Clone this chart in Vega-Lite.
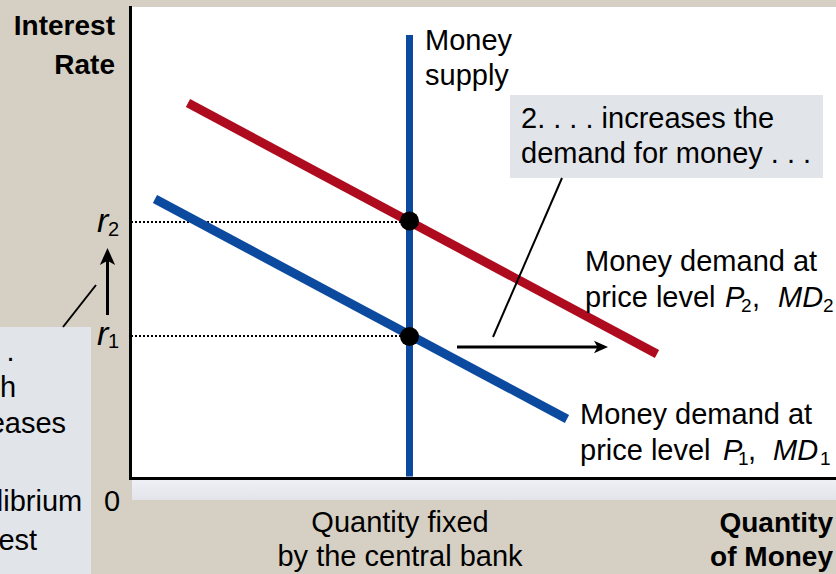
{
  "$schema": "https://vega.github.io/schema/vega-lite/v6.json",
  "width": 706,
  "height": 471,
  "autosize": {"type": "none"},
  "padding": {"left": 130, "top": 7, "right": 0, "bottom": 96},
  "background": "#D6D0C4",
  "config": {
    "view": {"fill": "white", "stroke": null},
    "font": "Liberation Sans",
    "text": {"font": "Liberation Sans", "color": "#000000", "baseline": "alphabetic"}
  },
  "datasets": {
    "strip": [{"x": 0.2, "x2": 70.6, "y": -0.2, "y2": -2.2}],
    "boxes": [
      {"name": "note2", "x": 38.0, "x2": 69.3, "y": 38.3, "y2": 30.0},
      {"name": "note3", "x": -20, "x2": -3.9, "y": 15.1, "y2": -12}
    ],
    "dotted": [
      {"r": "r2", "x": 0.1, "y": 25.6}, {"r": "r2", "x": 27.95, "y": 25.6},
      {"r": "r1", "x": 0.1, "y": 14.2}, {"r": "r1", "x": 27.95, "y": 14.2}
    ],
    "demand": [
      {"curve": "MD1", "x": 2.5, "y": 27.9}, {"curve": "MD1", "x": 43.7, "y": 5.9},
      {"curve": "MD2", "x": 5.8, "y": 37.5}, {"curve": "MD2", "x": 52.7, "y": 12.4}
    ],
    "supply": [{"x": 27.95, "y": 0.15}, {"x": 27.95, "y": 44.3}],
    "equilibria": [{"r": "r2", "x": 27.95, "y": 25.7}, {"r": "r1", "x": 27.95, "y": 14.15}],
    "shafts": [
      {"id": "up", "x": -2.25, "y": 16.3}, {"id": "up", "x": -2.25, "y": 22.0},
      {"id": "right", "x": 32.7, "y": 13.1}, {"id": "right", "x": 46.9, "y": 13.1}
    ],
    "leaders": [
      {"id": "note3", "x": -6.7, "y": 15.1}, {"id": "note3", "x": -3.4, "y": 19.3},
      {"id": "note2", "x": 36.3, "y": 14.1}, {"id": "note2", "x": 43.2, "y": 30.0}
    ],
    "headUp": [{"x": -2.25, "y": 22.15}],
    "headRight": [{"x": 47.1, "y": 13.1}],
    "boldRight": [
      {"text": "Interest", "x": -1.5, "y": 44.3},
      {"text": "Rate", "x": -1.5, "y": 40.4},
      {"text": "Quantity", "x": 70.3, "y": -5.4},
      {"text": "of Money", "x": 70.3, "y": -8.8}
    ],
    "plainLeft": [
      {"text": "Money", "x": 29.5, "y": 42.8},
      {"text": "supply", "x": 29.5, "y": 39.3},
      {"text": "2. . . . increases the", "x": 39.1, "y": 35.0},
      {"text": "demand for money . . .", "x": 39.1, "y": 31.5},
      {"text": "Money demand at", "x": 45.5, "y": 20.7},
      {"text": "price level", "x": 45.5, "y": 17.1},
      {"text": ",", "x": 62.2, "y": 17.1},
      {"text": "Money demand at", "x": 45.0, "y": 5.4},
      {"text": "price level", "x": 45.0, "y": 1.8},
      {"text": ",", "x": 61.8, "y": 1.8},
      {"text": "3. . . .", "x": -18.8, "y": 11.7},
      {"text": "which", "x": -18.8, "y": 8.1},
      {"text": "increases", "x": -18.8, "y": 4.5},
      {"text": "the", "x": -18.8, "y": 0.6},
      {"text": "equilibrium", "x": -18.8, "y": -3.3},
      {"text": "interest", "x": -18.8, "y": -7.2},
      {"text": "rate.", "x": -18.8, "y": -11.1}
    ],
    "plainCenter": [
      {"text": "0", "x": -1.8, "y": -3.3},
      {"text": "Quantity fixed", "x": 27.0, "y": -5.4},
      {"text": "by the central bank", "x": 27.0, "y": -8.8}
    ],
    "italic": [
      {"text": "P", "x": 59.5, "y": 17.1},
      {"text": "MD", "x": 64.8, "y": 17.1},
      {"text": "P", "x": 59.3, "y": 1.8},
      {"text": "MD", "x": 64.3, "y": 1.8}
    ],
    "subs": [
      {"text": "2", "x": 61.1, "y": 16.6},
      {"text": "2", "x": 69.3, "y": 16.6},
      {"text": "1", "x": 60.8, "y": 1.3},
      {"text": "1", "x": 69.0, "y": 1.3}
    ],
    "rLetters": [
      {"text": "r", "x": -3.3, "y": 24.6},
      {"text": "r", "x": -3.3, "y": 13.3}
    ],
    "rSubs": [
      {"text": "2", "x": -2.2, "y": 24.2},
      {"text": "1", "x": -2.2, "y": 13.0}
    ]
  },
  "encoding": {
    "x": {
      "field": "x", "type": "quantitative",
      "scale": {"domain": [0, 70.6], "nice": false, "zero": false},
      "axis": {"domain": true, "domainColor": "#000000", "domainWidth": 3, "domainCap": "square", "ticks": false, "labels": false, "grid": false, "title": null}
    },
    "y": {
      "field": "y", "type": "quantitative",
      "scale": {"domain": [0, 47.1], "nice": false, "zero": false},
      "axis": {"domain": true, "domainColor": "#000000", "domainWidth": 3, "domainCap": "square", "ticks": false, "labels": false, "grid": false, "title": null}
    }
  },
  "layer": [
    {
      "data": {"name": "strip"},
      "mark": {"type": "rect", "color": {"gradient": "linear", "x1": 0, "y1": 0, "x2": 0, "y2": 1, "stops": [{"offset": 0, "color": "#EEF0F6"}, {"offset": 1, "color": "#E2E4EA"}]}},
      "encoding": {"x2": {"field": "x2"}, "y2": {"field": "y2"}}
    },
    {
      "data": {"name": "boxes"},
      "mark": {"type": "rect", "color": "#E1E4E9"},
      "encoding": {"x2": {"field": "x2"}, "y2": {"field": "y2"}}
    },
    {
      "data": {"name": "dotted"},
      "mark": {"type": "line", "color": "#000000", "strokeWidth": 2, "strokeDash": [2, 2]},
      "encoding": {"detail": {"field": "r"}}
    },
    {
      "data": {"name": "demand"},
      "mark": {"type": "line", "strokeWidth": 9, "strokeCap": "butt"},
      "encoding": {
        "color": {"field": "curve", "type": "nominal", "scale": {"domain": ["MD1", "MD2"], "range": ["#0B4A9E", "#AE0B1E"]}, "legend": null}
      }
    },
    {
      "data": {"name": "supply"},
      "mark": {"type": "line", "color": "#0B4A9E", "strokeWidth": 7, "strokeCap": "butt"},
      "encoding": {}
    },
    {
      "data": {"name": "equilibria"},
      "mark": {"type": "point", "filled": true, "color": "#000000", "opacity": 1, "size": 361},
      "encoding": {}
    },
    {
      "data": {"name": "shafts"},
      "mark": {"type": "line", "color": "#000000", "strokeWidth": 3},
      "encoding": {"detail": {"field": "id"}}
    },
    {
      "data": {"name": "leaders"},
      "mark": {"type": "line", "color": "#000000", "strokeWidth": 2},
      "encoding": {"detail": {"field": "id"}}
    },
    {
      "data": {"name": "headUp"},
      "mark": {"type": "point", "shape": "M0,-1L0.9,1L0,0.5L-0.9,1Z", "filled": true, "color": "#000000", "opacity": 1, "size": 289, "angle": 0},
      "encoding": {}
    },
    {
      "data": {"name": "headRight"},
      "mark": {"type": "point", "shape": "M0,-1L0.9,1L0,0.5L-0.9,1Z", "filled": true, "color": "#000000", "opacity": 1, "size": 196, "angle": 90},
      "encoding": {}
    },
    {
      "data": {"name": "boldRight"},
      "mark": {"type": "text", "fontSize": 28, "fontWeight": "bold", "align": "right", "baseline": "alphabetic"},
      "encoding": {"text": {"field": "text"}}
    },
    {
      "data": {"name": "plainLeft"},
      "mark": {"type": "text", "fontSize": 29, "align": "left", "baseline": "alphabetic"},
      "encoding": {"text": {"field": "text"}}
    },
    {
      "data": {"name": "plainCenter"},
      "mark": {"type": "text", "fontSize": 29, "align": "center", "baseline": "alphabetic"},
      "encoding": {"text": {"field": "text"}}
    },
    {
      "data": {"name": "italic"},
      "mark": {"type": "text", "fontSize": 29, "fontStyle": "italic", "align": "left", "baseline": "alphabetic"},
      "encoding": {"text": {"field": "text"}}
    },
    {
      "data": {"name": "subs"},
      "mark": {"type": "text", "fontSize": 19, "align": "left", "baseline": "alphabetic"},
      "encoding": {"text": {"field": "text"}}
    },
    {
      "data": {"name": "rLetters"},
      "mark": {"type": "text", "fontSize": 34, "fontStyle": "italic", "align": "left", "baseline": "alphabetic"},
      "encoding": {"text": {"field": "text"}}
    },
    {
      "data": {"name": "rSubs"},
      "mark": {"type": "text", "fontSize": 20, "align": "left", "baseline": "alphabetic"},
      "encoding": {"text": {"field": "text"}}
    }
  ]
}
